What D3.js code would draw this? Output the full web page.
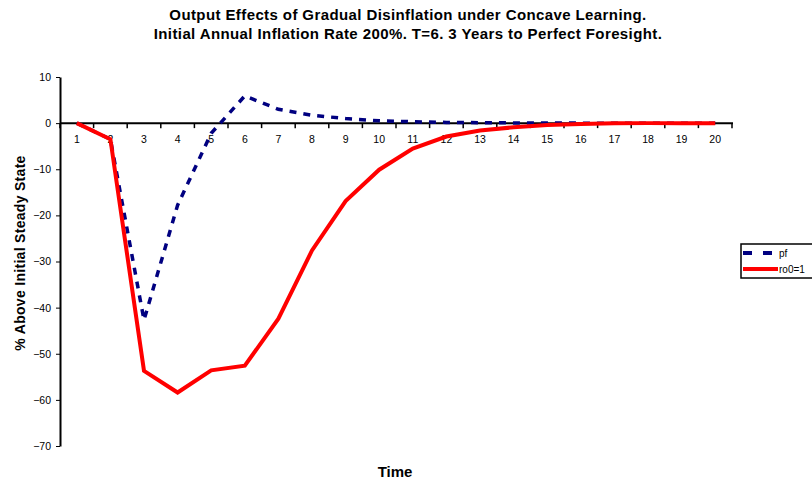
<!DOCTYPE html>
<html>
<head>
<meta charset="utf-8">
<script src="https://cdn.jsdelivr.net/npm/d3@7"></script>
<style>
  body { margin: 0; background: #fff; }
  text { font-family: Arial, "Liberation Sans", sans-serif; }
</style>
</head>
<body>
<div id="chart"></div>
<script>
// DATA
var periods = d3.range(1, 21);
var pf = [0, -3.5, -42.7, -17.8, -2.2, 5.9, 3.0, 1.7, 1.0, 0.5, 0.3, 0.15, 0.1, 0.05, 0.02, 0, 0, 0, 0, 0];
var ro0 = [0, -3.5, -53.7, -58.4, -53.6, -52.6, -42.4, -27.6, -16.9, -10.1, -5.5, -2.9, -1.6, -0.9, -0.4, -0.2, -0.05, 0, 0, 0];
var yTicks = [10, 0, -10, -20, -30, -40, -50, -60, -70];
var seriesNames = ["pf", "ro0=1"];

var W = 812, H = 484;
var plotL = 60, plotR = 732, plotT = 77, plotB = 446;

var svg = d3.select("#chart").append("svg")
  .attr("width", W)
  .attr("height", H);

// scales
var x = d3.scaleBand()
  .domain(periods)
  .range([plotL, plotR]);

var y = d3.scaleLinear()
  .domain([-70, 10])
  .range([plotB, plotT]);

// titles
svg.append("text")
  .attr("x", 408).attr("y", 20)
  .attr("text-anchor", "middle")
  .style("font-size", "15px").style("font-weight", "bold")
  .style("letter-spacing", "0.4px")
  .text("Output Effects of Gradual Disinflation under Concave Learning.");
svg.append("text")
  .attr("x", 408).attr("y", 39)
  .attr("text-anchor", "middle")
  .style("font-size", "15px").style("font-weight", "bold")
  .style("letter-spacing", "0.4px")
  .text("Initial Annual Inflation Rate 200%. T=6. 3 Years to Perfect Foresight.");

// y axis
var yAxis = svg.append("g")
  .attr("transform", "translate(" + plotL + ",0)")
  .call(d3.axisLeft(y).tickValues(yTicks).tickSize(4).tickPadding(5).tickSizeOuter(0));
yAxis.select(".domain").attr("stroke", "#000").attr("stroke-width", 2);
yAxis.selectAll("text").style("font-size", "10.5px").style("font-family", "Arial, 'Liberation Sans', sans-serif");

// x axis at y=0, ticks between categories
var xg = svg.append("g").attr("class", "xaxis");
xg.append("line")
  .attr("x1", plotL).attr("x2", plotR + 1)
  .attr("y1", y(0)).attr("y2", y(0))
  .attr("stroke", "#000").attr("stroke-width", 2);
xg.selectAll("line.tick")
  .data(d3.range(0, periods.length + 1))
  .enter()
  .append("line")
  .attr("class", "tick")
  .attr("x1", function(d) { return plotL + d * x.step(); })
  .attr("x2", function(d) { return plotL + d * x.step(); })
  .attr("y1", y(0)).attr("y2", y(0) + 5)
  .attr("stroke", "#000").attr("stroke-width", 1.5);
xg.selectAll("text")
  .data(periods)
  .enter()
  .append("text")
  .attr("x", function(d) { return x(d) + x.bandwidth() / 2; })
  .attr("y", y(0) + 20)
  .attr("text-anchor", "middle")
  .style("font-size", "10.5px")
  .text(function(d) { return d; });

// axis labels
svg.append("text")
  .attr("transform", "translate(25,253) rotate(-90)")
  .attr("text-anchor", "middle")
  .style("font-size", "14px").style("font-weight", "bold")
  .style("letter-spacing", "0.3px")
  .text("% Above Initial Steady State");
svg.append("text")
  .attr("x", 395).attr("y", 477)
  .attr("text-anchor", "middle")
  .style("font-size", "15px").style("font-weight", "bold")
  .text("Time");

// lines
var line = d3.line()
  .x(function(d, i) { return x(periods[i]) + x.bandwidth() / 2; })
  .y(function(d) { return y(d); });

svg.append("path")
  .datum(pf)
  .attr("d", line)
  .attr("fill", "none")
  .attr("stroke", "#000080")
  .attr("stroke-width", 3.5)
  .attr("stroke-dasharray", "7,7");

svg.append("path")
  .datum(ro0)
  .attr("d", line)
  .attr("fill", "none")
  .attr("stroke", "#ff0000")
  .attr("stroke-width", 4)
  .attr("stroke-linejoin", "miter");

// legend
var legend = svg.append("g").attr("transform", "translate(741,244)");
legend.append("rect")
  .attr("width", 80).attr("height", 34)
  .attr("fill", "#fff").attr("stroke", "#000").attr("stroke-width", 1.5);
var legStyles = [
  { color: "#000080", dash: "9,11", width: 4 },
  { color: "#ff0000", dash: null, width: 4 }
];
seriesNames.forEach(function(name, i) {
  var yy = 9 + i * 16;
  legend.append("line")
    .attr("x1", 2).attr("x2", i === 0 ? 31 : 37)
    .attr("y1", yy).attr("y2", yy)
    .attr("stroke", legStyles[i].color)
    .attr("stroke-width", legStyles[i].width)
    .attr("stroke-dasharray", legStyles[i].dash);
  legend.append("text")
    .attr("x", 38).attr("y", yy + 4)
    .style("font-size", "10px")
    .text(name);
});
</script>
</body>
</html>
